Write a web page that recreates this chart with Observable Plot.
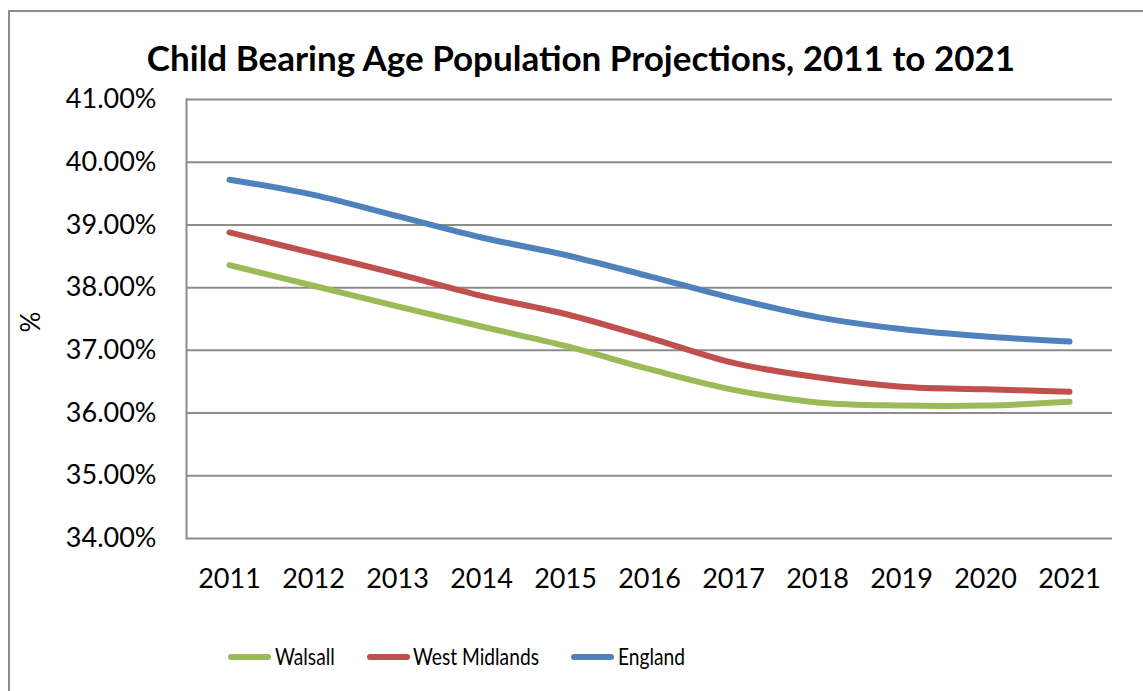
<!DOCTYPE html>
<html>
<head>
<meta charset="utf-8">
<script src="https://cdn.jsdelivr.net/npm/d3@7"></script>
<script src="https://cdn.jsdelivr.net/npm/@observablehq/plot@0.6"></script>
<style>
  html, body { margin: 0; padding: 0; background: #fff; }
  #wrap { position: relative; width: 1143px; height: 691px; overflow: hidden; font-family: Lato, "Noto Sans", sans-serif; }
  #border { position: absolute; left: 8px; top: 10px; right: -10px; bottom: -10px; border-left: 2px solid #8c8c8c; border-top: 2px solid #8c8c8c; }
  #title { position: absolute; left: 0; width: 1162px; top: 36px; text-align: center; font-weight: bold; font-size: 35px; color: #000; }
  #ylab { position: absolute; left: 20px; top: 306px; font-size: 26px; transform: rotate(-90deg); transform-origin: center; color: #000; }
  #legend { position: absolute; top: 0; left: 0; font-size: 24px; color: #000; }
  .swatch { position: absolute; width: 43px; height: 6px; border-radius: 3px; top: 654px; }
  .ltext { position: absolute; top: 641px; white-space: nowrap; transform: scaleX(0.80); transform-origin: left center; }
  #chart { position: absolute; left: 0; top: 0; }
</style>
</head>
<body>
<div id="wrap">
  <div id="border"></div>
  <div id="chart"></div>
  <div id="title"></div>
  <div id="ylab">%</div>
  <div id="legend"></div>
</div>
<script>
const years = ["2011","2012","2013","2014","2015","2016","2017","2018","2019","2020","2021"];
const seriesNames = ["Walsall", "West Midlands", "England"];
const walsall      = [38.36, 38.03, 37.70, 37.38, 37.07, 36.70, 36.37, 36.17, 36.12, 36.12, 36.18];
const westMidlands = [38.88, 38.55, 38.22, 37.87, 37.58, 37.20, 36.80, 36.57, 36.42, 36.38, 36.34];
const england      = [39.72, 39.48, 39.14, 38.80, 38.52, 38.18, 37.83, 37.53, 37.34, 37.22, 37.14];
const yTicks = [34, 35, 36, 37, 38, 39, 40, 41];
const colors = ["#9BBB59", "#C0504D", "#4F81BD"];
const titleText = "Child Bearing Age Population Projections, 2011 to 2021";

const valuesBySeries = [walsall, westMidlands, england];
const data = [];
seriesNames.forEach((s, i) => years.forEach((y, j) => data.push({series: s, year: y, value: valuesBySeries[i][j]})));

document.getElementById("title").textContent = titleText;

const chart = Plot.plot({
  width: 1143,
  height: 691,
  marginLeft: 186,
  marginRight: 31,
  marginTop: 99,
  marginBottom: 153,
  style: { fontFamily: "Lato, 'Noto Sans', sans-serif", fontSize: "27px", color: "#000", background: "transparent" },
  x: { type: "band", domain: years, padding: 0, label: null, tickSize: 0, tickPadding: 30 },
  y: { domain: [34, 41], ticks: yTicks, tickFormat: d => d.toFixed(2) + "%", label: null, tickSize: 0, tickPadding: 30 },
  color: { domain: seriesNames, range: colors },
  marks: [
    Plot.ruleY(yTicks, { stroke: "#8c8c8c", strokeWidth: 2, strokeOpacity: 1 }),
    Plot.frame({ anchor: "left", stroke: "#8c8c8c", strokeWidth: 2, strokeOpacity: 1 }),
    Plot.line(data, { x: "year", y: "value", z: "series", stroke: "series", strokeWidth: 6, curve: "catmull-rom", strokeLinecap: "round" })
  ]
});
document.getElementById("chart").appendChild(chart);

// legend layout (swatch left, text left) in px
const legendPos = [[228, 275], [367, 413], [571, 618]];
const legend = document.getElementById("legend");
seriesNames.forEach((s, i) => {
  const sw = document.createElement("div");
  sw.className = "swatch";
  sw.style.background = colors[i];
  sw.style.left = legendPos[i][0] + "px";
  const t = document.createElement("span");
  t.className = "ltext";
  t.style.left = legendPos[i][1] + "px";
  t.textContent = s;
  legend.appendChild(sw);
  legend.appendChild(t);
});
</script>
</body>
</html>
